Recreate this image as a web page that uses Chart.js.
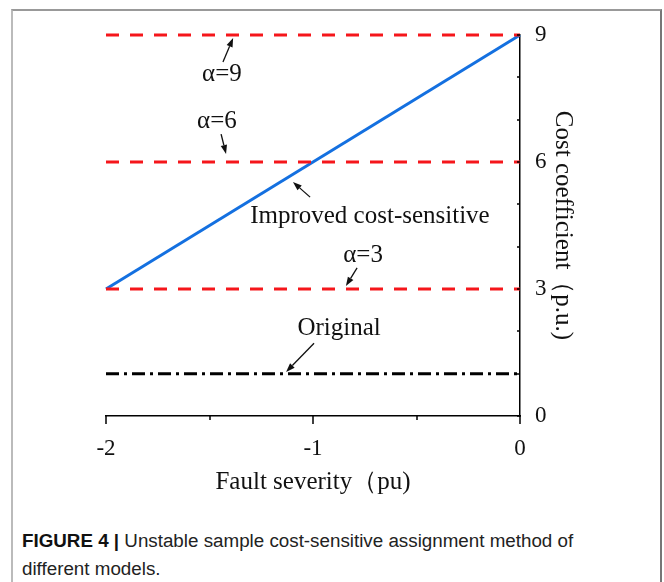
<!DOCTYPE html>
<html>
<head>
<meta charset="utf-8">
<script src="https://cdn.jsdelivr.net/npm/chart.js@4/dist/chart.umd.min.js"></script>
<style>
  html, body { margin: 0; padding: 0; background: #fff; }
  body { width: 664px; height: 582px; position: relative; overflow: hidden; }
  #frame {
    position: absolute; left: 11px; top: 9px; width: 647px; height: 600px;
    border-top: 2px solid #999; border-left: 2px solid #bbb; border-right: 2px solid #777;
  }
  #wrap { position: absolute; left: 0; top: 0; width: 664px; height: 500px; }
  #caption {
    position: absolute; left: 22px; top: 527px; width: 570px;
    font-family: "Liberation Sans", Arial, sans-serif; font-size: 18.8px; line-height: 28px;
    color: #222;
  }
  #caption b { font-weight: bold; color: #111; }
</style>
</head>
<body>
<div id="frame"></div>
<div id="wrap"><canvas id="chart" width="664" height="500"></canvas></div>
<div id="caption"><b>FIGURE 4 |</b> Unstable sample cost-sensitive assignment method of different models.</div>
<script>
// fault severity (pu)
const severity = [-2, 0];
// cost coefficient series
const improved = [3, 9];
const alpha9 = [9, 9];
const alpha6 = [6, 6];
const alpha3 = [3, 3];
const original = [1, 1];

const xTicks = [-2, -1, 0];
const yTicks = [0, 3, 6, 9];

// annotation labels, text anchor and arrow (from -> to), in data units
const noteText = ["α=9", "α=6", "Improved cost-sensitive", "α=3", "Original"];
const noteAt = [[-1.44, 8.06], [-1.464, 6.95], [-0.725, 4.72], [-0.758, 3.80], [-0.874, 2.08]];
const noteArrow = [
  [[-1.435, 8.36], [-1.386, 8.93]],
  [[-1.444, 6.66], [-1.42, 6.19]],
  [[-1.014, 5.17], [-1.097, 5.53]],
  [[-0.787, 3.50], [-0.841, 3.07]],
  [[-0.995, 1.72], [-1.130, 1.04]],
];

const pts = (ys) => severity.map((x, i) => ({ x: x, y: ys[i] }));

const SERIF = '"Liberation Serif", "Times New Roman", serif';

const tickMarks = {
  id: "tickMarks",
  afterDraw(chart) {
    const ctx = chart.ctx;
    const xs = chart.scales.x, ys = chart.scales.y;
    ctx.save();
    ctx.strokeStyle = "#000";
    ctx.lineWidth = 1.5;
    ctx.beginPath();
    xs.ticks.forEach((t) => {
      const px = Math.round(xs.getPixelForValue(t.value));
      const len = Number.isInteger(t.value) ? 8 : 4;
      ctx.moveTo(px, xs.top);
      ctx.lineTo(px, xs.top + len);
    });
    ys.ticks.forEach((t) => {
      const py = Math.round(ys.getPixelForValue(t.value));
      ctx.moveTo(ys.left, py);
      ctx.lineTo(ys.left - 3, py);
    });
    ctx.stroke();
    ctx.restore();
  },
};

const notes = {
  id: "notes",
  afterDatasetsDraw(chart) {
    const ctx = chart.ctx;
    const xs = chart.scales.x, ys = chart.scales.y;
    const P = (p) => [xs.getPixelForValue(p[0]), ys.getPixelForValue(p[1])];
    ctx.save();
    ctx.fillStyle = "#111";
    ctx.strokeStyle = "#111";
    ctx.font = "25px " + SERIF;
    ctx.textAlign = "center";
    ctx.textBaseline = "middle";
    noteText.forEach((txt, i) => {
      const [tx, ty] = P(noteAt[i]);
      ctx.fillText(txt, tx, ty);
      const [x0, y0] = P(noteArrow[i][0]);
      const [x1, y1] = P(noteArrow[i][1]);
      const a = Math.atan2(y1 - y0, x1 - x0);
      const hl = 9, hw = 3.2;
      const bx = x1 - hl * Math.cos(a), by = y1 - hl * Math.sin(a);
      ctx.lineWidth = 1.3;
      ctx.beginPath();
      ctx.moveTo(x0, y0);
      ctx.lineTo(bx, by);
      ctx.stroke();
      ctx.beginPath();
      ctx.moveTo(x1, y1);
      ctx.lineTo(bx + hw * Math.sin(a), by - hw * Math.cos(a));
      ctx.lineTo(bx - hw * Math.sin(a), by + hw * Math.cos(a));
      ctx.closePath();
      ctx.fill();
    });
    ctx.restore();
  },
};

const red = "#f5161b";

new Chart(document.getElementById("chart"), {
  type: "line",
  data: {
    datasets: [
      { data: pts(alpha9), borderColor: red, borderWidth: 3, borderDash: [13, 11], clip: 6 },
      { data: pts(alpha6), borderColor: red, borderWidth: 3, borderDash: [13, 11], clip: 6 },
      { data: pts(alpha3), borderColor: red, borderWidth: 3, borderDash: [13, 11], clip: 6 },
      { data: pts(original), borderColor: "#000", borderWidth: 3, borderDash: [13, 5, 3, 5], clip: 6 },
      { data: pts(improved), borderColor: "#1470e0", borderWidth: 3, clip: 6 },
    ],
  },
  options: {
    responsive: false,
    animation: false,
    events: [],
    layout: { padding: { left: 106, top: 35, right: 84, bottom: 0 } },
    elements: { point: { radius: 0 }, line: { tension: 0 } },
    plugins: { legend: { display: false }, tooltip: { enabled: false } },
    scales: {
      x: {
        type: "linear",
        position: "bottom",
        min: -2,
        max: 0,
        grid: { display: false },
        border: { display: true, color: "#000", width: 1.5 },
        ticks: {
          stepSize: 0.5,
          padding: 11,
          color: "#111",
          font: { family: SERIF, size: 23 },
          maxRotation: 0,
          autoSkip: false,
          callback: (v) => (xTicks.includes(v) ? String(v) : ""),
        },
        title: {
          display: true,
          text: "Fault severity（pu)",
          color: "#111",
          font: { family: SERIF, size: 25 },
          padding: { top: 0, bottom: 3 },
        },
        afterFit: (s) => { s.height = 84; },
      },
      y: {
        type: "linear",
        position: "right",
        min: 0,
        max: 9,
        grid: { display: false },
        border: { display: true, color: "#000", width: 1.5 },
        ticks: {
          stepSize: 1,
          padding: 7,
          color: "#111",
          font: { family: SERIF, size: 23 },
          autoSkip: false,
          callback: (v) => (yTicks.includes(v) ? String(v) : ""),
        },
        title: {
          display: true,
          text: "Cost coefficient（p.u.)",
          color: "#111",
          font: { family: SERIF, size: 25 },
          padding: { top: 2, bottom: 0 },
        },
        afterFit: (s) => { s.width = 60; },
      },
    },
  },
  plugins: [tickMarks, notes],
});
</script>
</body>
</html>
